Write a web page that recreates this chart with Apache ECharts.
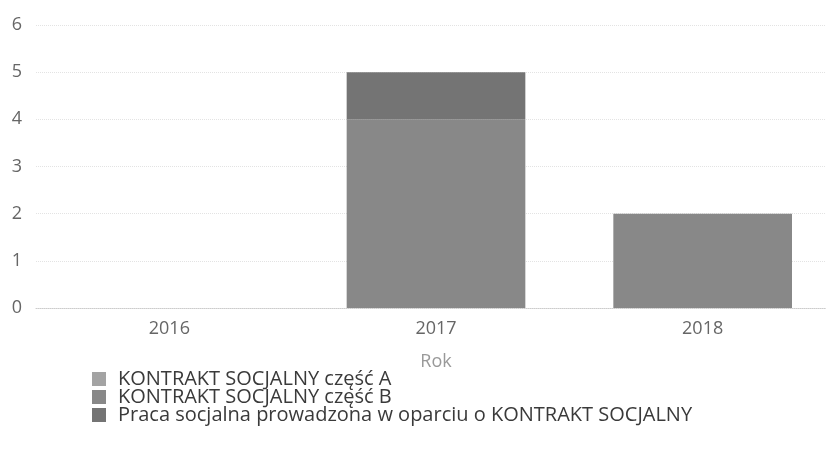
<!DOCTYPE html>
<html>
<head>
<meta charset="utf-8">
<script src="https://cdn.jsdelivr.net/npm/echarts@6/dist/echarts.min.js"></script>
<style>
  html, body { margin: 0; padding: 0; background: #fff; }
  #chart { width: 826px; height: 460px; }
</style>
</head>
<body>
<div id="chart"></div>
<script>
var years = ["2016", "2017", "2018"];
var seriesNames = [
  "KONTRAKT SOCJALNY część A",
  "KONTRAKT SOCJALNY część B",
  "Praca socjalna prowadzona w oparciu o KONTRAKT SOCJALNY"
];
var partA = [0, 0, 0];
var partB = [0, 4, 2];
var praca = [0, 1, 0];
var colors = ["#a3a3a3", "#888888", "#747474"];

var chart = echarts.init(document.getElementById("chart"));
var font = "'Open Sans', 'Noto Sans', sans-serif";

var dataSets = [partA, partB, praca];
var series = seriesNames.map(function (name, i) {
  return {
    name: name,
    type: "bar",
    stack: "total",
    barWidth: "67%",
    itemStyle: { color: colors[i] },
    data: dataSets[i]
  };
});

chart.setOption({
  animation: false,
  textStyle: { fontFamily: font },
  grid: { left: 36, right: -10, top: 25, bottom: 152, outerBoundsMode: "none" },
  legend: {
    orient: "vertical",
    left: 92,
    top: 369,
    padding: 0,
    itemWidth: 14,
    itemHeight: 14,
    itemGap: -2,
    icon: "rect",
    textStyle: { fontSize: 20, color: "#3a3a3a", fontFamily: font, padding: [0, 0, 0, 7] },
    data: seriesNames
  },
  xAxis: {
    type: "category",
    data: years,
    name: "Rok",
    nameLocation: "middle",
    nameGap: 45,
    nameTextStyle: { fontSize: 18, color: "#999" },
    axisLine: { lineStyle: { color: "#ccc", type: "dotted" } },
    axisTick: { show: false },
    axisLabel: { fontSize: 18, color: "#666", margin: 12 }
  },
  yAxis: {
    type: "value",
    min: 0,
    max: 6,
    interval: 1,
    axisLine: { show: false },
    axisTick: { show: false },
    axisLabel: { fontSize: 18, color: "#666", margin: 14 },
    splitLine: { lineStyle: { color: "#e3e3e3", type: "dotted" } }
  },
  series: series
});
</script>
</body>
</html>
